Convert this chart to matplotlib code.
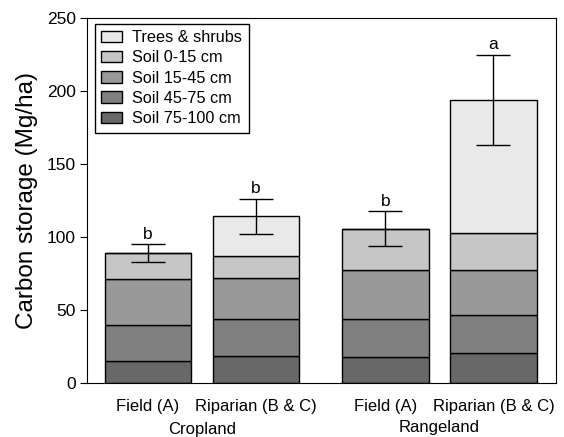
"""Stacked carbon storage bars for cropland and rangeland sites."""

import matplotlib

matplotlib.use("Agg")
import matplotlib.pyplot as plt  # noqa: E402
from matplotlib.patches import Patch  # noqa: E402

plt.rcParams["font.family"] = ["Liberation Sans", "DejaVu Sans"]

sites = ["Field (A)", "Riparian (B & C)", "Field (A)", "Riparian (B & C)"]
groups = ["Cropland", "Rangeland"]
layers = ["Soil 75-100 cm", "Soil 45-75 cm", "Soil 15-45 cm", "Soil 0-15 cm", "Trees & shrubs"]

soil_75_100 = [15.3, 18.5, 18.3, 20.8]
soil_45_75 = [24.7, 25.5, 25.7, 25.6]
soil_15_45 = [31.6, 27.9, 33.3, 30.9]
soil_0_15 = [17.4, 15.3, 28.5, 25.4]
trees_shrubs = [0.0, 27.2, 0.0, 91.2]
errors = [6.0, 12.0, 12.0, 31.0]
letters = ["b", "b", "b", "a"]

colors = ["#686868", "#808080", "#999999", "#c6c6c6", "#e9e9e9"]
x_pos = [0.0, 1.0, 2.2, 3.2]


def main() -> None:
    fig = plt.figure(figsize=(5.64, 4.37), dpi=100)
    ax = fig.add_axes([0.154, 0.123, 0.832, 0.836])

    series = [soil_75_100, soil_45_75, soil_15_45, soil_0_15, trees_shrubs]
    bottom = [0.0] * len(sites)
    for values, color, label in zip(series, colors, layers):
        ax.bar(x_pos, values, width=0.8, bottom=bottom, color=color,
               edgecolor="black", linewidth=1.0, label=label)
        bottom = [b + v for b, v in zip(bottom, values)]

    ax.errorbar(x_pos, bottom, yerr=errors, fmt="none", ecolor="black",
                elinewidth=1.0, capsize=12, capthick=1.0)
    for x, top, err, letter in zip(x_pos, bottom, errors, letters):
        ax.text(x, top + err + 1.5, letter, ha="center", va="bottom", fontsize=12.5)

    ax.set_xlim(-0.565, 3.78)
    ax.set_ylim(0, 250)
    ax.set_yticks([0, 50, 100, 150, 200, 250])
    ax.set_xticks(x_pos)
    ax.set_xticklabels(sites, fontsize=12)
    ax.tick_params(axis="x", length=0, pad=11)
    ax.tick_params(axis="y", labelsize=12.5, length=5, direction="out", pad=3)
    ax.set_ylabel("Carbon storage (Mg/ha)", fontsize=17.5, labelpad=6)

    centers = [(x_pos[0] + x_pos[1]) / 2, (x_pos[2] + x_pos[3]) / 2]
    offsets = [-0.126, -0.122]
    for c, name, off in zip(centers, groups, offsets):
        ax.text(c, off, name, transform=ax.get_xaxis_transform(),
                ha="center", va="center", fontsize=12)

    handles = [Patch(facecolor=c, edgecolor="black", linewidth=1.0, label=l)
               for c, l in zip(colors, layers)][::-1]
    ax.legend(handles=handles, loc="upper left", bbox_to_anchor=(0.017, 0.984),
              borderaxespad=0, fontsize=11.7, frameon=True, fancybox=False,
              edgecolor="black", framealpha=1, handlelength=1.3, handleheight=0.7,
              labelspacing=0.32, borderpad=0.4, handletextpad=0.6)

    fig.savefig("out.png", dpi=100)
    plt.close(fig)


if __name__ == "__main__":
    main()
